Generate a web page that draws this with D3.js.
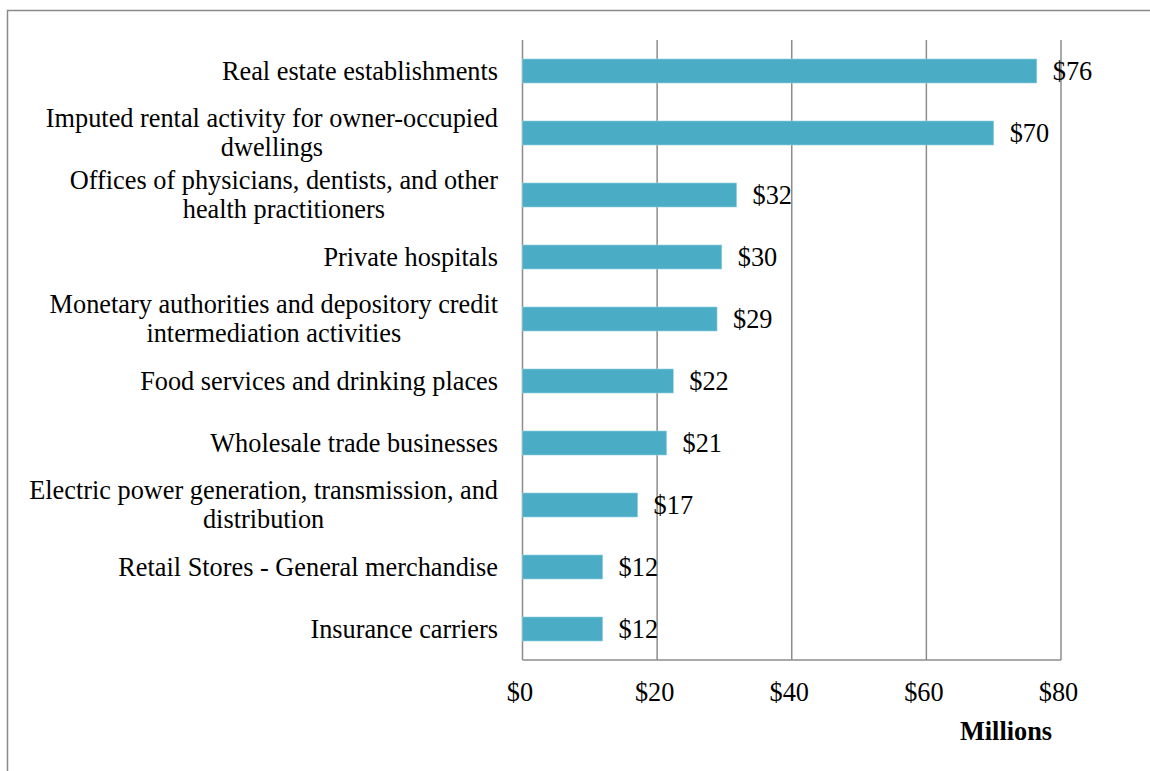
<!DOCTYPE html>
<html>
<head>
<meta charset="utf-8">
<script src="https://cdn.jsdelivr.net/npm/d3@7"></script>
<style>
  html, body { margin: 0; padding: 0; background: #fff; }
  svg { display: block; }
  text { font-family: "Liberation Serif", "Times New Roman", serif; fill: #000; }
</style>
</head>
<body>
<svg id="chart" width="1150" height="771"></svg>
<script>
const categories = [
  ["Real estate establishments"],
  ["Imputed rental activity for owner-occupied", "dwellings"],
  ["Offices of physicians, dentists, and other", "health practitioners"],
  ["Private hospitals"],
  ["Monetary authorities and depository credit", "intermediation activities"],
  ["Food services and drinking places"],
  ["Wholesale trade businesses"],
  ["Electric power generation, transmission, and", "distribution"],
  ["Retail Stores - General merchandise"],
  ["Insurance carriers"]
];
const values = [76.4, 70.0, 31.8, 29.6, 28.9, 22.4, 21.4, 17.1, 11.9, 11.9];
const valueLabels = ["$76", "$70", "$32", "$30", "$29", "$22", "$21", "$17", "$12", "$12"];
const xTicks = [0, 20, 40, 60, 80];
const xTickLabels = ["$0", "$20", "$40", "$60", "$80"];
const axisTitle = "Millions";

const svg = d3.select("#chart");
const fontSize = 26.3;

// frame
svg.append("rect")
  .attr("x", 7.5).attr("y", 10.5)
  .attr("width", 1160).attr("height", 780)
  .attr("fill", "none").attr("stroke", "#8a8a8a").attr("stroke-width", 1.5);

const x = d3.scaleLinear().domain([0, 80]).range([522.5, 1061]);
const keys = categories.map((c, i) => i);
const y = d3.scaleBand().domain(keys).range([40, 660])
  .paddingInner(0.613).paddingOuter(0.3065);

// gridlines
const grid = svg.append("g");
grid.selectAll("line.grid").data(xTicks).join("line")
  .attr("x1", d => x(d)).attr("x2", d => x(d))
  .attr("y1", 40).attr("y2", 660)
  .attr("stroke", "#8c8c8c").attr("stroke-width", 1.5);
grid.append("line")
  .attr("x1", x(0)).attr("x2", x(80))
  .attr("y1", 660).attr("y2", 660)
  .attr("stroke", "#8c8c8c").attr("stroke-width", 1.5);

// bars
svg.append("g").selectAll("rect").data(values).join("rect")
  .attr("x", x(0))
  .attr("y", (d, i) => y(i))
  .attr("width", d => x(d) - x(0))
  .attr("height", y.bandwidth())
  .attr("fill", "#4bacc6")
  .attr("stroke", "#8fd0e0").attr("stroke-width", 0.6);

// value labels
svg.append("g").selectAll("text").data(values).join("text")
  .attr("x", d => x(d) + 16)
  .attr("y", (d, i) => y(i) + y.bandwidth() / 2 + 9)
  .attr("font-size", fontSize)
  .text((d, i) => valueLabels[i]);

// category labels
const lineH = 29;
const labelRight = 498;
categories.forEach((lines, i) => {
  const cy = y(i) + y.bandwidth() / 2;
  const g = svg.append("g");
  const texts = lines.map((ln, j) => g.append("text")
    .attr("font-size", fontSize)
    .attr("y", cy + (j - (lines.length - 1) / 2) * lineH + 8.5)
    .text(ln));
  const maxW = d3.max(texts, t => t.node().getComputedTextLength());
  texts.forEach(t => t.attr("x", labelRight - maxW / 2).attr("text-anchor", "middle"));
});

// x tick labels
const xAxis = d3.axisBottom(x).tickValues(xTicks)
  .tickFormat((d, i) => xTickLabels[i]).tickSize(0).tickPadding(0);
const ax = svg.append("g").attr("transform", "translate(-3,0)").call(xAxis);
ax.select(".domain").remove();
ax.selectAll("text")
  .attr("y", 701).attr("dy", 0)
  .attr("font-size", fontSize)
  .attr("font-family", "Liberation Serif, Times New Roman, serif")
  .attr("fill", "#000");

// axis title
svg.append("text")
  .attr("x", 1006).attr("y", 740)
  .attr("text-anchor", "middle")
  .attr("font-size", fontSize)
  .attr("font-weight", "bold")
  .text(axisTitle);
</script>
</body>
</html>
